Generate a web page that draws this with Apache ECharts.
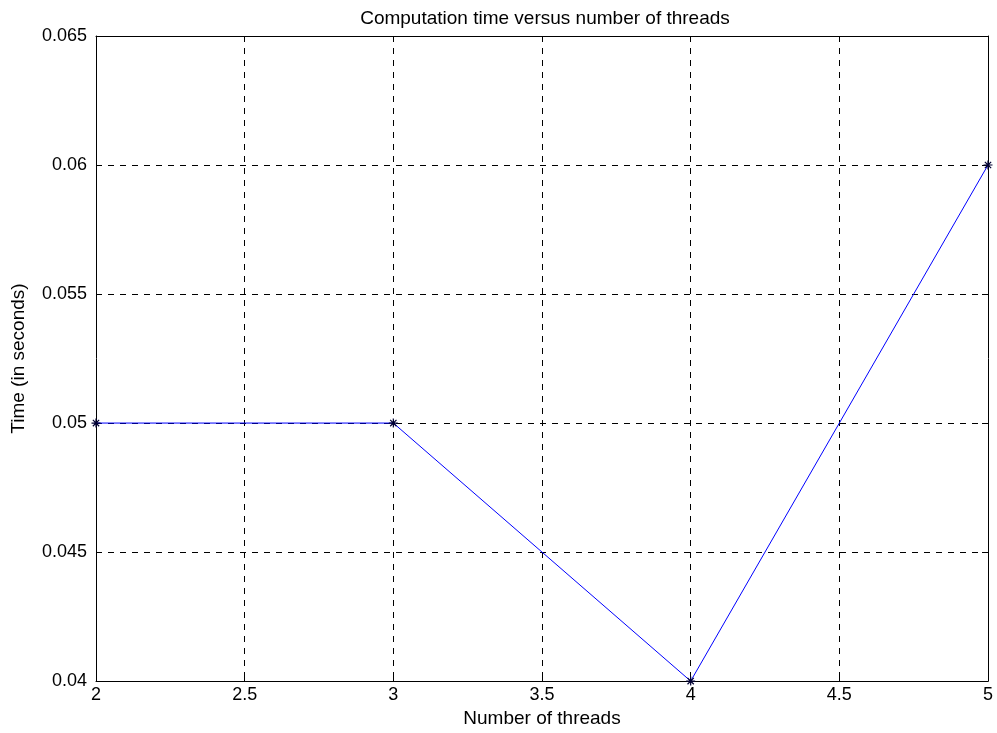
<!DOCTYPE html>
<html>
<head>
<meta charset="utf-8">
<script src="https://cdn.jsdelivr.net/npm/echarts@6/dist/echarts.min.js"></script>
<style>
  html, body { margin: 0; padding: 0; background: #fff; }
  #chart { width: 997px; height: 733px; }
</style>
</head>
<body>
<div id="chart"></div>
<script>
  var threads = [2, 3, 4, 5];
  var times = [0.05, 0.05, 0.04, 0.06];
  var xTicks = { min: 2, max: 5, step: 0.5 };
  var yTicks = { min: 0.04, max: 0.065, step: 0.005 };

  var font = 'Liberation Sans, Arial, Helvetica, sans-serif';
  var star = 'path://M5,0L5,10M0,5L10,5M1.5,1.5L8.5,8.5M8.5,1.5L1.5,8.5';

  function fmt(v) {
    return String(parseFloat(v.toFixed(4)));
  }

  function axisBase(show) {
    return {
      axisLine: { show: true, lineStyle: { color: '#000', width: 1 } },
      axisTick: { show: true, inside: true, length: 6, lineStyle: { color: '#000' } },
      axisLabel: { show: show, color: '#000', fontSize: 18, fontFamily: font, formatter: fmt }
    };
  }

  var chart = echarts.init(document.getElementById('chart'));
  var pts = threads.map(function (x, i) { return [x, times[i]]; });

  chart.setOption({
    animation: false,
    backgroundColor: '#fff',
    title: {
      text: 'Computation time versus number of threads',
      left: 540, top: 4, textAlign: 'center',
      textStyle: { color: '#000', fontSize: 19, fontWeight: 'normal', fontFamily: font }
    },
    grid: {
      left: 96, top: 36, width: 892, height: 646,
      show: false
    },
    xAxis: [
      Object.assign(axisBase(true), {
        type: 'value', min: xTicks.min, max: xTicks.max, interval: xTicks.step,
        position: 'bottom',
        name: 'Number of threads', nameLocation: 'middle', nameGap: 16,
        nameTextStyle: { color: '#000', fontSize: 19, fontFamily: font, verticalAlign: 'top' },
        axisLabel: { color: '#000', fontSize: 18, fontFamily: font, formatter: fmt, margin: 5 },
        splitLine: { show: true, lineStyle: { color: '#000', type: [6, 6], width: 1 } }
      }),
      Object.assign(axisBase(false), {
        type: 'value', min: xTicks.min, max: xTicks.max, interval: xTicks.step,
        position: 'top', splitLine: { show: false }
      })
    ],
    yAxis: [
      Object.assign(axisBase(true), {
        type: 'value', min: yTicks.min, max: yTicks.max, interval: yTicks.step,
        position: 'left',
        name: 'Time (in seconds)', nameLocation: 'middle', nameGap: 68,
        nameTextStyle: { color: '#000', fontSize: 19, fontFamily: font },
        axisLabel: { color: '#000', fontSize: 18, fontFamily: font, formatter: fmt, margin: 9 },
        splitLine: { show: true, lineStyle: { color: '#000', type: [6, 6], width: 1 } }
      }),
      Object.assign(axisBase(false), {
        type: 'value', min: yTicks.min, max: yTicks.max, interval: yTicks.step,
        position: 'right', splitLine: { show: false }
      })
    ],
    series: [{
      type: 'line',
      data: pts,
      symbol: star,
      symbolSize: 9,
      showAllSymbol: true,
      lineStyle: { color: '#0000ff', width: 1 },
      itemStyle: { color: '#0000ff', borderColor: '#000033', borderWidth: 1.2 },
      clip: false,
      z: 5
    }]
  });
</script>
</body>
</html>
